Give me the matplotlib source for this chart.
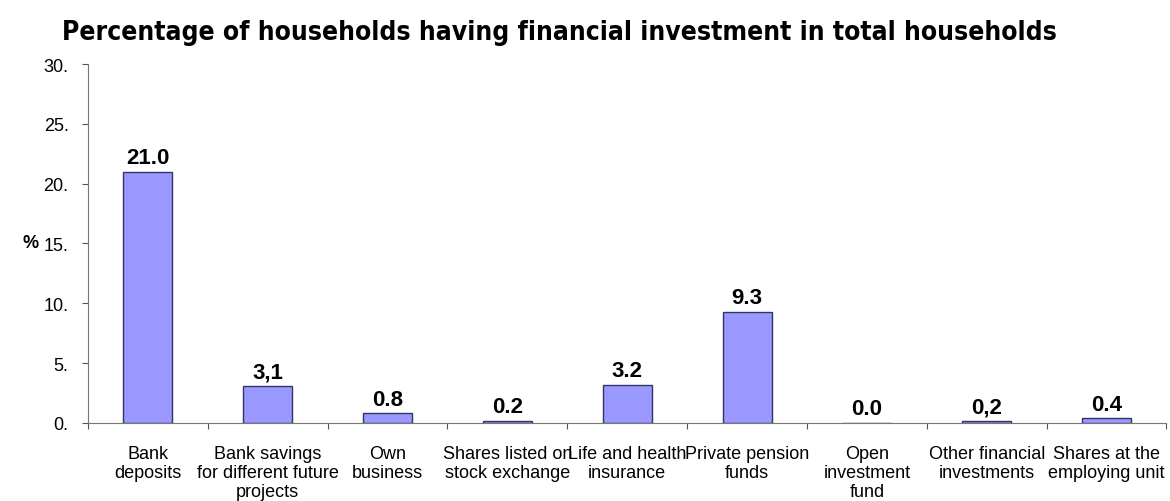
import matplotlib.pyplot as plt
import numpy as np

# Datos
categories = [
    "Bank\ndeposits",
    "Bank savings\nfor different future\nprojects",
    "Own\nbusiness",
    "Shares listed on\nstock exchange",
    "Life and health\ninsurance",
    "Private pension\nfunds",
    "Open\ninvestment\nfund",
    "Other financial\ninvestments",
    "Shares at the\nemploying unit",
]
values = [21.0, 3.1, 0.8, 0.2, 3.2, 9.3, 0.0, 0.2, 0.4]
value_labels = ["21.0", "3,1", "0.8", "0.2", "3.2", "9.3", "0.0", "0,2", "0.4"]
y_ticks = [0, 5, 10, 15, 20, 25, 30]
y_tick_labels = ["0.", "5.", "10.", "15.", "20.", "25.", "30."]

plt.rcParams['font.family'] = ['Liberation Sans', 'DejaVu Sans']

fig = plt.figure(figsize=(11.7, 5.02), dpi=100)
ax = fig.add_axes([0.0752, 0.1554, 0.9218, 0.7151])

x = np.arange(len(categories))
ax.bar(x, values, width=0.41, color="#9999FF", edgecolor="#333366", linewidth=1.0)

for xi, v, lab in zip(x, values, value_labels):
    ax.text(xi, v + 0.3, lab, ha="center", va="bottom", fontsize=16, fontweight="bold")

ax.set_xlim(-0.5, len(categories) - 0.5)
ax.set_ylim(0, 30)
ax.set_yticks(y_ticks)
ax.set_yticklabels(y_tick_labels, fontsize=13)

# marcas en los limites de cada categoria, etiquetas centradas
ax.set_xticks(np.arange(len(categories) + 1) - 0.5)
ax.set_xticklabels([])
ax.set_xticks(x, minor=True)
ax.set_xticklabels(categories, minor=True, fontsize=13, linespacing=1.15)
ax.tick_params(axis="x", which="minor", length=0, pad=16)
ax.tick_params(axis="x", which="major", length=4, color="#555555")
ax.tick_params(axis="y", length=4, color="#555555", pad=10)

for s in ["top", "right"]:
    ax.spines[s].set_visible(False)
for s in ["left", "bottom"]:
    ax.spines[s].set_color("#777777")

fig.text(0.019, 0.514, "%", fontsize=13, fontweight="bold", ha="left", va="center")

fig.text(0.053, 0.935, "Percentage of households having financial investment in total households",
         fontsize=19, fontweight="bold", ha="left", va="center",
         family="DejaVu Sans", fontstretch="condensed")

plt.savefig("out.png", dpi=100)
